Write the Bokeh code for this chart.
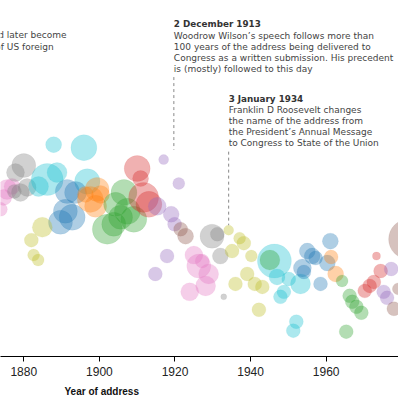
from bokeh.plotting import figure
from bokeh.models import Range1d, FixedTicker, Title, ColumnDataSource, Label
from bokeh.core.properties import value
from bokeh.embed import file_html
from bokeh.resources import INLINE
import numpy as np

# ---- data -------------------------------------------------------------
palette = ["#1f77b4", "#ff7f0e", "#2ca02c", "#d62728", "#9467bd",
           "#8c564b", "#e377c2", "#7f7f7f", "#bcbd22", "#17becf"]

years = [1875.6, 1876.9, 1874.7, 1873.8,
         1880.0, 1877.8, 1879.1, 1880.9, 1877.5,
         1887.9, 1895.9, 1886.2, 1888.8, 1883.9, 1896.8,
         1891.5, 1893.7, 1891.0, 1892.8, 1889.7,
         1884.9, 1882.0, 1882.6, 1883.8,
         1899.4, 1897.6, 1900.3, 1899.0, 1896.3,
         1906.5, 1904.3, 1907.4, 1909.1, 1905.6, 1902.1, 1903.8,
         1910.0, 1910.9, 1911.7, 1913.1,
         1917.0, 1921.0, 1915.3, 1919.0, 1919.9, 1917.9, 1914.8,
         1921.5, 1922.8,
         1925.0, 1926.3, 1927.2, 1928.9, 1928.1, 1923.9,
         1929.8, 1931.2, 1932.0, 1932.9,
         1934.2, 1937.1, 1938.2, 1935.1, 1940.2, 1939.1, 1936.0, 1941.1, 1943.1, 1942.2,
         1946.3, 1947.0, 1950.1, 1953.2, 1948.8, 1947.9, 1952.1, 1951.3,
         1945.1,
         1955.0, 1956.3, 1957.2, 1953.7, 1954.1, 1961.1, 1960.3, 1958.5,
         1961.3, 1962.5,
         1964.2, 1966.2, 1966.9, 1968.0, 1969.3, 1965.3,
         1973.3, 1974.4, 1972.6, 1971.5, 1970.2,
         1977.2, 1975.2, 1976.1,
         1981.8, 1977.9, 1979.1]

levels = [16.8, 17.1, 16.0, 14.8,
          19.2, 18.5, 16.5, 17.0, 16.6,
          21.3, 21.0, 17.8, 18.5, 17.1, 17.6,
          16.6, 16.5, 14.6, 14.0, 13.5,
          13.0, 11.7, 10.2, 9.7,
          16.8, 15.8, 16.3, 15.1, 16.3,
          16.5, 15.3, 14.6, 13.8, 14.0, 12.8, 13.3,
          18.9, 17.9, 16.0, 15.3,
          19.8, 17.4, 15.1, 14.3, 13.3, 10.1, 8.3,
          12.8, 12.1,
          10.2, 9.1, 9.6, 8.3, 7.1, 6.5,
          12.1, 12.3, 10.1, 6.0,
          12.7, 11.9, 11.4, 10.6, 10.1, 8.3, 7.3, 7.3, 7.0, 4.7,
          9.6, 8.0, 7.8, 7.3, 6.5, 6.0, 3.5, 2.6,
          9.7,
          10.6, 10.1, 9.9, 8.9, 8.5, 11.6, 9.4, 7.3,
          10.0, 8.3,
          7.6, 6.1, 5.5, 5.0, 4.4, 2.5,
          10.1, 8.6, 7.5, 7.1, 6.6,
          8.8, 6.5, 5.9,
          11.8, 4.8, 6.8]

words = [8650, 5540, 5540, 4240,
         12460, 7010, 7010, 7010, 4240,
         5540, 14620, 22150, 8650, 8650, 13950,
         12460, 10470, 12460, 14620, 12460,
         8650, 4240, 3115, 3115,
         12460, 14620, 7010, 10470, 5540,
         14620, 12460, 14620, 14620, 12460, 19470, 12460,
         14620, 5540, 19470, 14620,
         2160, 3115, 7010, 5540, 4240, 4240, 4240,
         4240, 5540,
         7010, 12460, 4240, 8650, 8650, 7010,
         12460, 4240, 5540, 780,
         2160, 3115, 4240, 4240, 3115, 4240, 4240, 4240, 4240, 4240,
         25000, 5540, 4240, 8650, 4240, 4240, 4240, 4240,
         8650,
         5540, 5540, 4240, 7010, 4240, 5540, 5540, 4240,
         4240, 5540,
         3115, 4240, 4240, 4240, 4240, 4240,
         1385, 4240, 4240, 4240, 4240,
         4240, 4240, 4240,
         34600, 4240, 3115]

groups = [6] * 4 + [7] * 5 + [9] * 6 + [0] * 5 + [8] * 4 + [1] * 5 + \
         [2] * 7 + [3] * 4 + [4] * 7 + [5] * 2 + [6] * 6 + [7] * 4 + \
         [8] * 10 + [9] * 8 + [2] * 1 + [0] * 8 + [1] * 2 + [2] * 6 + \
         [3] * 5 + [4] * 3 + [5] * 3

x_ticks = [1860, 1880, 1900, 1920, 1940, 1960, 1980, 2000]

ann_wilson_title = "2 December 1913"
ann_wilson_lines = ["Woodrow Wilson\u2019s speech follows more than",
                    "100 years of the address being delivered to",
                    "Congress as a written submission. His precedent",
                    "is (mostly) followed to this day"]
ann_fdr_title = "3 January 1934"
ann_fdr_lines = ["Franklin D Roosevelt changes",
                 "the name of the address from",
                 "the President\u2019s Annual Message",
                 "to Congress to State of the Union"]
ann_left_lines = ["sets out what would later become",
                  "a cornerstone of US foreign"]

# ---- figure -----------------------------------------------------------
p = figure(width=398, height=402, output_backend="svg", toolbar_location=None,
           x_range=Range1d(1873.84, 1979.13), y_range=Range1d(0, 35.8),
           min_border_left=0, min_border_right=0, min_border_top=0,
           min_border_bottom=44)
p.outline_line_color = None
p.grid.visible = False
p.yaxis.visible = False

sizes = [0.215 * np.sqrt(w) for w in words]
colors = [palette[g] for g in groups]
src = ColumnDataSource(dict(x=years, y=levels, size=sizes, color=colors))
p.scatter("x", "y", size="size", source=src, marker="circle",
          fill_color="color", fill_alpha=0.36, line_color="color", line_alpha=0.08)

ax = p.xaxis[0]
ax.ticker = FixedTicker(ticks=x_ticks)
ax.axis_line_color = "#000000"
ax.major_tick_line_color = "#000000"
ax.major_tick_in = 0
ax.major_tick_out = 5
ax.minor_tick_line_color = None
ax.major_label_text_font = "Liberation Sans"
ax.major_label_text_font_size = "12px"
ax.major_label_text_color = "#222222"
ax.major_label_standoff = 5

p.add_layout(Title(text="Year of address", align="left", offset=64,
                   text_font="Liberation Sans", text_font_size="10px",
                   text_font_style="bold", text_color="#111111", standoff=11), "below")

# partially visible tick label at the right edge (tick lies just outside the range)
p.add_layout(Label(x=x_ticks[6], y=-1.65, x_units="data", y_units="data",
                   text=str(x_ticks[6]), text_align="center", text_baseline="middle",
                   text_font="Liberation Sans", text_font_size="12px",
                   text_color="#222222"))

font = value("DejaVu Sans")
step = 1.12

def block(x, y0, title, lines):
    if title:
        p.text([x], [y0], text=[title], text_font=font, text_font_size="8.8px",
               text_font_style="bold", text_color="#333333",
               text_baseline="middle", text_align="left")
    ys = [y0 - step * (i + 1) for i in range(len(lines))]
    p.text([x] * len(lines), ys, text=lines, text_font=font, text_font_size="9px",
           text_color="#444444", text_baseline="middle", text_align="left")

block(1919.7, 33.4, ann_wilson_title, ann_wilson_lines)
block(1934.2, 25.9, ann_fdr_title, ann_fdr_lines)

p.text([1891.3, 1887.9], [32.3, 31.15], text=ann_left_lines, text_font=font,
       text_font_size="9px", text_color="#444444", text_baseline="middle",
       text_align="right")

p.segment([1919.7, 1934.2], [28.1, 20.6], [1919.7, 1934.2], [20.8, 13.2],
          line_color="#888888", line_dash="3 3", line_width=1)

open("out.html", "w").write(file_html(p, INLINE))
